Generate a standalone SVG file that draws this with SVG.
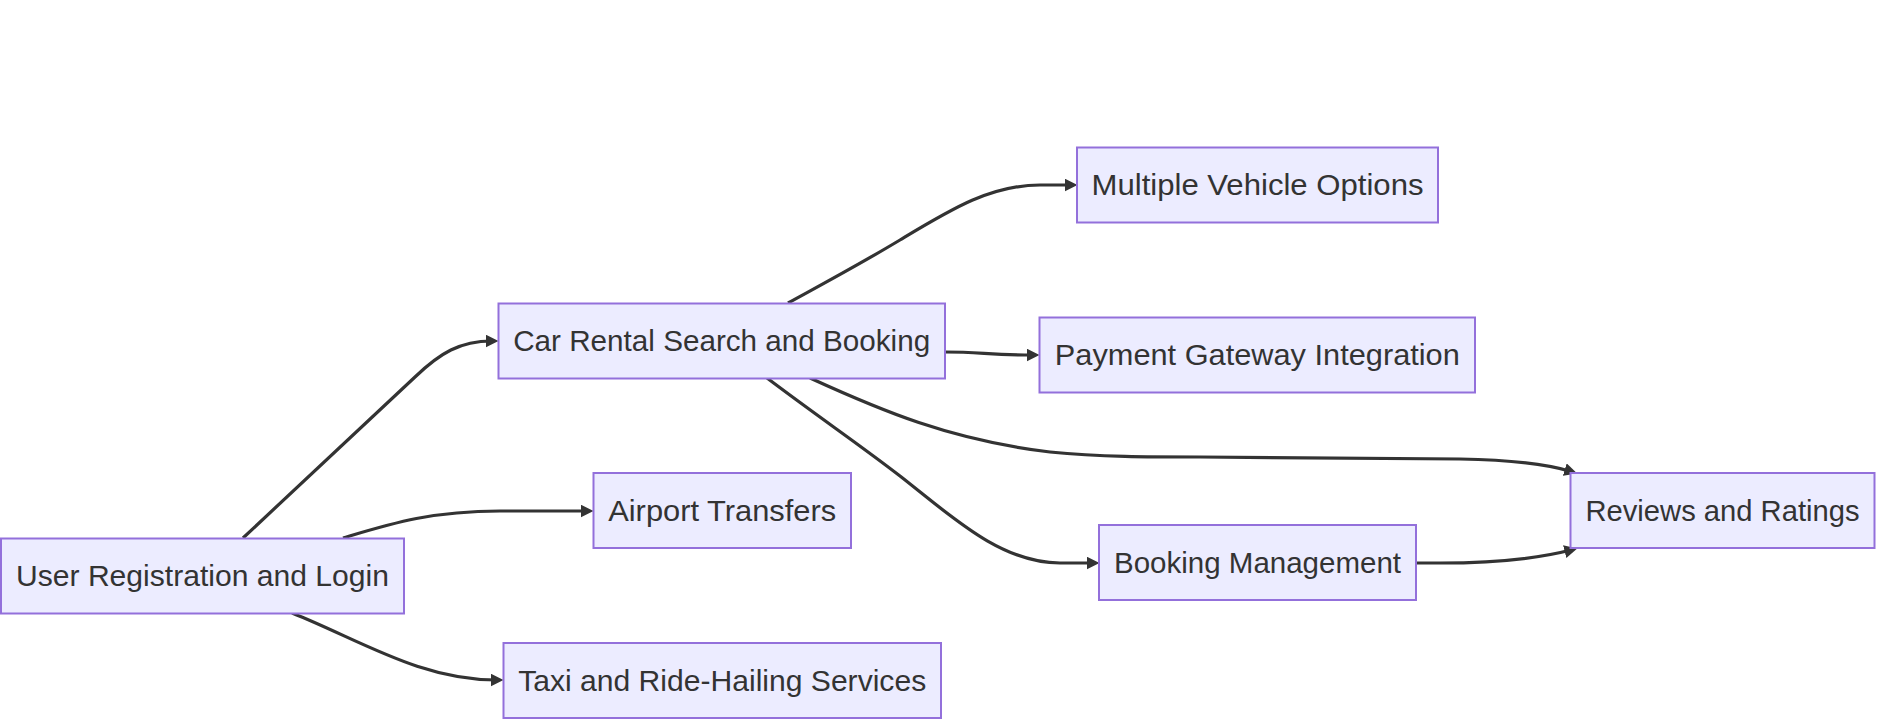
<svg xmlns="http://www.w3.org/2000/svg" width="1885" height="728" viewBox="0 0 1885 728">
<style>
.node rect{fill:#ECECFF;stroke:#9370DB;stroke-width:2;}
.node text{font-family:"Liberation Sans",Arial,sans-serif;font-size:30px;fill:#333333;text-anchor:middle;}
.edge{fill:none;stroke:#333333;stroke-width:3.2;marker-end:url(#arrow);}
</style>
<defs>
<marker id="arrow" viewBox="0 0 10 10" refX="5" refY="5" markerUnits="userSpaceOnUse" markerWidth="13" markerHeight="13" orient="auto">
<path d="M0,0 L10,5 L0,10 z" fill="#333333"/>
</marker>
</defs>
<rect width="1885" height="728" fill="#ffffff"/>
<g id="connectors">
<path class="edge" d="M243,538 L415,377 C440,353 460,341 492,341"/>
<path class="edge" d="M343,538 C390,524 430,511 500,511 L587,511"/>
<path class="edge" d="M292,613 C360,640 420,680 497,680"/>
<path class="edge" d="M788,303 C830,280 860,264 900,240 C950,210 990,185 1040,185 L1071,185"/>
<path class="edge" d="M945,352 C980,352 990,355 1033,355"/>
<path class="edge" d="M810,378 C880,410 950,440 1050,452 C1100,457 1150,457 1200,457 L1460,459 C1520,460 1550,465 1571,471.5"/>
<path class="edge" d="M767,378 C820,418 860,445 900,476 C950,515 1000,563 1060,563 L1093,563"/>
<path class="edge" d="M1416,563 L1440,563 C1500,563 1540,558 1571,550"/>
</g>
<g id="user" class="node"><rect x="1" y="538.5" width="403" height="75"/><text x="202.5" y="586" textLength="373" lengthAdjust="spacingAndGlyphs">User Registration and Login</text></g>
<g id="carrental" class="node"><rect x="498.5" y="303.5" width="446.5" height="75"/><text x="721.7" y="351" textLength="417" lengthAdjust="spacingAndGlyphs">Car Rental Search and Booking</text></g>
<g id="multiple" class="node"><rect x="1077" y="147.5" width="361" height="75"/><text x="1257.5" y="195" textLength="332" lengthAdjust="spacingAndGlyphs">Multiple Vehicle Options</text></g>
<g id="payment" class="node"><rect x="1039.5" y="317.5" width="435.5" height="75"/><text x="1257.3" y="365" textLength="405" lengthAdjust="spacingAndGlyphs">Payment Gateway Integration</text></g>
<g id="reviews" class="node"><rect x="1570.5" y="473" width="304" height="75"/><text x="1722.5" y="521" textLength="274" lengthAdjust="spacingAndGlyphs">Reviews and Ratings</text></g>
<g id="booking" class="node"><rect x="1099" y="525" width="317" height="75"/><text x="1257.5" y="573" textLength="287" lengthAdjust="spacingAndGlyphs">Booking Management</text></g>
<g id="airport" class="node"><rect x="593.5" y="473" width="257.5" height="75"/><text x="722.2" y="521" textLength="228" lengthAdjust="spacingAndGlyphs">Airport Transfers</text></g>
<g id="taxi" class="node"><rect x="503.5" y="643" width="437.5" height="75"/><text x="722.2" y="691" textLength="408" lengthAdjust="spacingAndGlyphs">Taxi and Ride-Hailing Services</text></g>
</svg>
